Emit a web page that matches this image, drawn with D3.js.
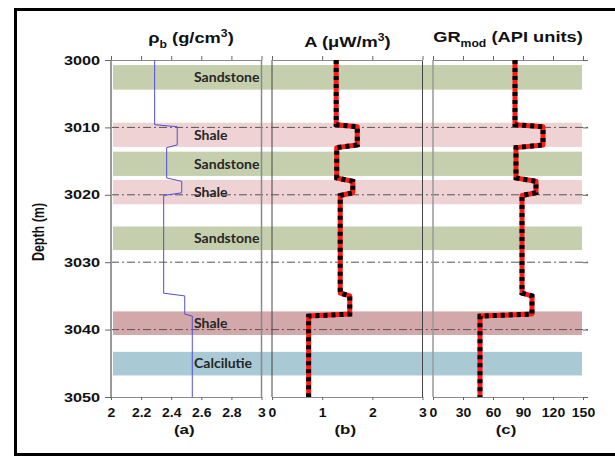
<!DOCTYPE html>
<html><head><meta charset="utf-8">
<script src="https://cdn.jsdelivr.net/npm/d3@7"></script>
<style>body{margin:0;background:#fff}svg{display:block}</style>
</head><body>
<script>
// ---------- data ----------
const depthTicks = [3000, 3010, 3020, 3030, 3040, 3050];
const gridDepths = [3010, 3020, 3030, 3040];
const depth = [3000, 3009.6, 3009.9, 3012.6, 3013.0, 3017.5, 3018.0, 3019.7, 3020.1, 3034.6, 3035.0, 3037.7, 3038.0, 3050];
const rho   = [2.29, 2.29, 2.44, 2.44, 2.37, 2.37, 2.47, 2.47, 2.35, 2.35, 2.49, 2.49, 2.54, 2.54];
const heat  = [1.28, 1.28, 1.70, 1.70, 1.29, 1.29, 1.61, 1.61, 1.36, 1.36, 1.55, 1.55, 0.73, 0.73];
const gr    = [82, 82, 110, 110, 83, 83, 103, 103, 89, 89, 99, 99, 47, 47];
const layerNames  = ["Sandstone", "Shale", "Sandstone", "Shale", "Sandstone", "Shale", "Calcilutie"];
const layerTop    = [3000.75, 3009.3, 3013.6, 3017.8, 3024.7, 3037.3, 3043.3];
const layerBottom = [3004.4, 3012.9, 3017.2, 3021.4, 3028.2, 3040.8, 3046.8];
const layerColors = ["#c5cfad", "#efd3d4", "#c5cfad", "#efd3d4", "#c5cfad", "#d3a8ab", "#a9c9d4"];
const rhoTicks = [2, 2.2, 2.4, 2.6, 2.8, 3];
const heatTicks = [0, 1, 2, 3];
const grTicks = [0, 30, 60, 90, 120, 150];
const panelLetters = ["(a)", "(b)", "(c)"];

// ---------- layout ----------
const W = 615, H = 457;
const SX = 1.25; // horizontal stretch of the original raster text
const svg = d3.select("body").append("svg").attr("width", W).attr("height", H);
svg.append("rect").attr("width", W).attr("height", H).attr("fill", "#fff");

const y = d3.scaleLinear().domain([3000, 3050]).range([60, 397]);
const xa = d3.scaleLinear().domain([2, 3]).range([111, 261.5]);
const xb = d3.scaleLinear().domain([0, 3]).range([272, 422.5]);
const xc = d3.scaleLinear().domain([0, 150]).range([433, 583]);

// outer frame (right edge runs off the canvas as in the original)
svg.append("rect").attr("x", 15.5).attr("y", 9.5).attr("width", 605).attr("height", 445)
  .attr("fill", "none").attr("stroke", "#000").attr("stroke-width", 3);

// lithology bands
const bandX0 = 113, bandX1 = 582;
const bands = svg.append("g");
layerNames.forEach((n, i) => {
  bands.append("rect").attr("x", bandX0).attr("width", bandX1 - bandX0)
    .attr("y", y(layerTop[i])).attr("height", y(layerBottom[i]) - y(layerTop[i]))
    .attr("fill", layerColors[i]);
});

// dash-dot grid lines
svg.append("g").selectAll("line").data(gridDepths).join("line")
  .attr("x1", 111).attr("x2", 588).attr("y1", d => y(d)).attr("y2", d => y(d))
  .attr("stroke", "#555").attr("stroke-width", 1).attr("stroke-dasharray", "8,3,2,3");

// band labels
layerNames.forEach((n, i) => {
  svg.append("text").text(n)
    .attr("transform", `translate(194,${(y(layerTop[i]) + y(layerBottom[i])) / 2}) scale(1.08,1)`)
    .attr("dominant-baseline", "central")
    .attr("font-family", "Lato, 'Open Sans', sans-serif").attr("font-weight", "bold")
    .attr("font-size", 13).attr("fill", "#262626");
});

// panel vertical lines
const vlines = [
  {x: 111, c: "#9a9a9a", w: 2},
  {x: 261.5, c: "#8a8a8a", w: 1.5},
  {x: 272, c: "#444", w: 1},
  {x: 422.5, c: "#444", w: 1},
  {x: 433, c: "#9a9a9a", w: 1.5}
];
svg.append("g").selectAll("line").data(vlines).join("line")
  .attr("x1", d => d.x).attr("x2", d => d.x).attr("y1", y(3000)).attr("y2", y(3050))
  .attr("stroke", d => d.c).attr("stroke-width", d => d.w);

// axes
function styleAxis(g) {
  g.selectAll("path.domain").attr("stroke", "#8a8a8a");
  g.selectAll(".tick line").attr("stroke", "#666");
  g.selectAll("text").attr("font-family", "'Liberation Sans', Arial, sans-serif")
    .attr("font-weight", "bold").attr("fill", "#111");
}
const panels = [[xa, rhoTicks], [xb, heatTicks], [xc, grTicks]];
panels.forEach(([sc, tv], i) => {
  const top = svg.append("g").attr("transform", `translate(0,${y(3000)})`)
    .call(d3.axisTop(sc).tickValues(tv).tickSize(4).tickSizeOuter(0).tickFormat(""));
  styleAxis(top);
  const bot = svg.append("g").attr("transform", `translate(0,${y(3050)})`)
    .call(d3.axisBottom(sc).tickValues(tv).tickSize(3).tickSizeOuter(0).tickPadding(8)
      .tickFormat(d3.format("~g")));
  styleAxis(bot);
  bot.selectAll("text").attr("font-size", 12.5).attr("transform", "scale(1.12,1)");
  // panel letter
  const mid = (sc.range()[0] + sc.range()[1]) / 2 - 2;
  svg.append("text").text(panelLetters[i])
    .attr("transform", `translate(${mid},434) scale(${SX},1)`).attr("text-anchor", "middle")
    .attr("font-family", "'Liberation Sans', Arial, sans-serif").attr("font-weight", "bold")
    .attr("font-size", 13.5).attr("fill", "#111");
});

// depth axis (left)
const left = svg.append("g").attr("transform", "translate(111,0)")
  .call(d3.axisLeft(y).tickValues(depthTicks).tickSize(6).tickSizeOuter(0).tickFormat(d3.format("d")));
styleAxis(left);
left.select("path.domain").remove();
left.selectAll("text").attr("font-size", 13).attr("x", -8.8).attr("transform", `scale(${SX},1)`);

// right ticks
const right = svg.append("g").attr("transform", "translate(583,0)")
  .call(d3.axisRight(y).tickValues(depthTicks).tickSize(5).tickSizeOuter(0).tickFormat(""));
styleAxis(right);
right.select("path.domain").remove();

// depth label
svg.append("text").text("Depth (m)")
  .attr("transform", `translate(44,232) scale(${SX},1) rotate(-90)`)
  .attr("text-anchor", "middle")
  .attr("font-family", "'Liberation Sans', Arial, sans-serif").attr("font-weight", "bold")
  .attr("font-size", 12.5).attr("fill", "#111");

// headers
function header(x, yy, parts) {
  const t = svg.append("text").attr("transform", `translate(${x},${yy}) scale(1.22,1)`)
    .attr("text-anchor", "middle")
    .attr("font-family", "'Liberation Sans', Arial, sans-serif").attr("font-weight", "bold")
    .attr("font-size", 15).attr("fill", "#111");
  parts.forEach(p => {
    const s = t.append("tspan").text(p.t);
    if (p.sub) s.attr("font-size", 10).attr("dy", 5);
    if (p.sup) s.attr("font-size", 10).attr("dy", -6);
    if (p.back) s.attr("dy", p.back);
  });
}
header(191, 43, [{t: "ρ"}, {t: "b", sub: true}, {t: " (g/cm", back: -5}, {t: "3", sup: true}, {t: ")", back: 6}]);
header(347.5, 47, [{t: "A (μW/m"}, {t: "3", sup: true}, {t: ")", back: 6}]);
header(508, 42, [{t: "GR"}, {t: "mod", sub: true}, {t: " (API units)", back: -5}]);

// curves
const idx = d3.range(depth.length);
const rhoLine = d3.line().x(i => xa(rho[i])).y(i => y(depth[i]));
svg.append("path").attr("d", rhoLine(idx)).attr("fill", "none")
  .attr("stroke", "#4f4fd6").attr("stroke-width", 1);

function thickDashed(sc, vals) {
  const ln = d3.line().x(i => sc(vals[i])).y(i => y(depth[i]));
  svg.append("path").attr("d", ln(idx)).attr("fill", "none")
    .attr("stroke", "#ff1a1a").attr("stroke-width", 5).attr("stroke-linejoin", "round");
  svg.append("path").attr("d", ln(idx)).attr("fill", "none")
    .attr("stroke", "#000").attr("stroke-width", 5).attr("stroke-dasharray", "4,4");
}
thickDashed(xb, heat);
thickDashed(xc, gr);
</script>
</body></html>
